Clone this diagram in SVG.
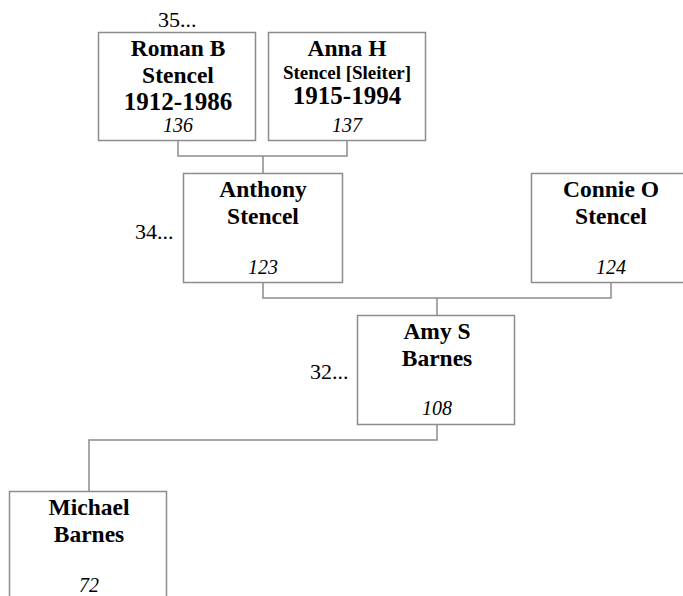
<svg xmlns="http://www.w3.org/2000/svg" width="683" height="596" viewBox="0 0 683 596">
<style>
.box{fill:#fff;stroke:#8c8c8c;stroke-width:1.5}
.ln{fill:none;stroke:#8c8c8c;stroke-width:1.5}
.n{font-family:"Liberation Serif","Times New Roman",serif;font-weight:bold;font-size:23.5px;text-anchor:middle;fill:#000}
.s{font-size:19px}
.d{font-size:25px}
.i{font-family:"Liberation Serif","Times New Roman",serif;font-style:italic;font-size:20px;text-anchor:middle;fill:#000}
.g{font-family:"Liberation Serif","Times New Roman",serif;font-size:22px;fill:#000}
</style>
<rect width="683" height="596" fill="#fff"/>
<g id="connectors">
<path class="ln" d="M178,141V156H347V141M263,156V173"/>
<path class="ln" d="M263,283V298H611V283M437,298V315"/>
<path class="ln" d="M437,425V440H89V491"/>
</g>
<text class="g" x="158" y="27">35...</text>
<text class="g" x="135" y="239">34...</text>
<text class="g" x="310" y="379">32...</text>
<g id="n136">
<rect class="box" x="98.5" y="32.5" width="157" height="108"/>
<text class="n" x="178" y="56">Roman B</text>
<text class="n" x="178" y="83">Stencel</text>
<text class="n d" x="178" y="110">1912-1986</text>
<text class="i" x="178" y="132">136</text>
</g>
<g id="n137">
<rect class="box" x="268.5" y="32.5" width="157" height="108"/>
<text class="n" x="347" y="56">Anna H</text>
<text class="n s" x="347" y="79">Stencel [Sleiter]</text>
<text class="n d" x="347" y="104">1915-1994</text>
<text class="i" x="347" y="132">137</text>
</g>
<g id="n123">
<rect class="box" x="183.5" y="173.5" width="159" height="109"/>
<text class="n" x="263" y="197">Anthony</text>
<text class="n" x="263" y="224">Stencel</text>
<text class="i" x="263" y="274">123</text>
</g>
<g id="n124">
<rect class="box" x="531.5" y="173.5" width="159" height="109"/>
<text class="n" x="611" y="197">Connie O</text>
<text class="n" x="611" y="224">Stencel</text>
<text class="i" x="611" y="274">124</text>
</g>
<g id="n108">
<rect class="box" x="357.5" y="315.5" width="157" height="109"/>
<text class="n" x="437" y="339">Amy S</text>
<text class="n" x="437" y="366">Barnes</text>
<text class="i" x="437" y="415">108</text>
</g>
<g id="n72">
<rect class="box" x="9.5" y="491.5" width="157" height="120"/>
<text class="n" x="89" y="515">Michael</text>
<text class="n" x="89" y="542">Barnes</text>
<text class="i" x="89" y="592">72</text>
</g>
</svg>
